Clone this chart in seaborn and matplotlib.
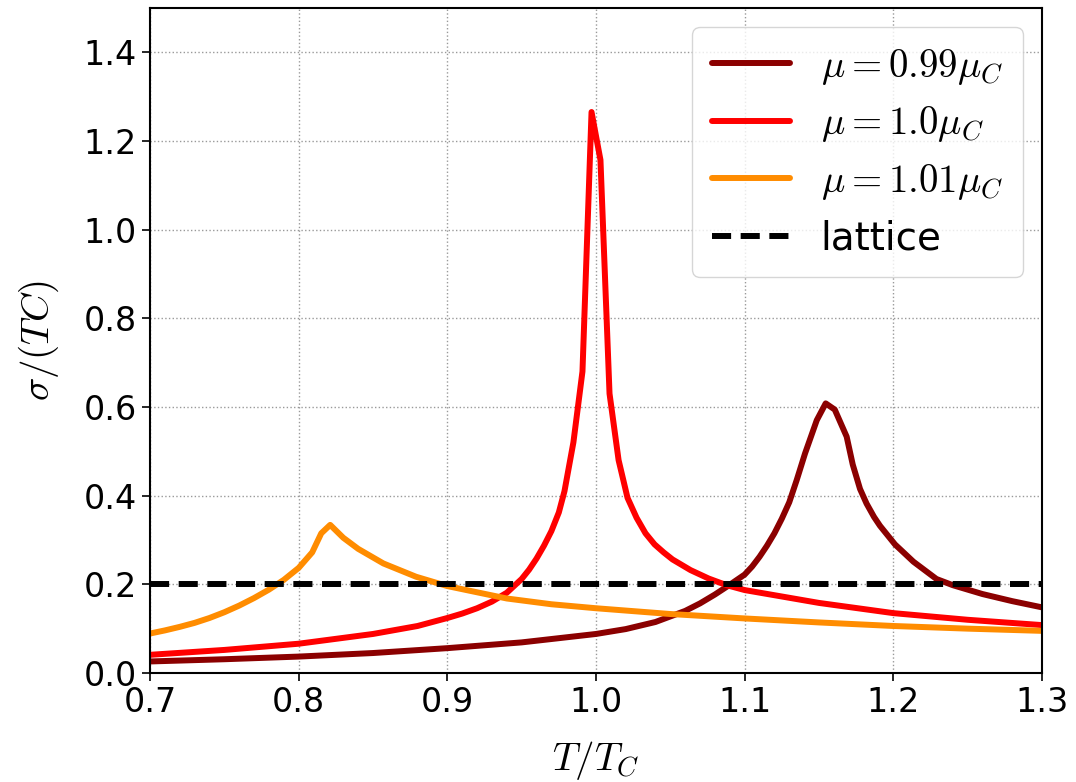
import matplotlib
matplotlib.use("Agg")
import matplotlib.pyplot as plt
import seaborn as sns
import numpy as np

sns.set_style("white")
plt.rcParams['font.family'] = ['DejaVu Sans']
plt.rcParams['mathtext.fontset'] = 'cm'
for k in ['text.color', 'axes.labelcolor', 'xtick.color', 'ytick.color', 'axes.edgecolor']:
    plt.rcParams[k] = 'black'

# mu = 0.99 mu_C
x_099 = [0.700, 0.750, 0.800, 0.850, 0.900, 0.950, 1.000, 1.020, 1.040, 1.060, 1.070,
         1.080, 1.090, 1.100, 1.105, 1.110, 1.115, 1.120, 1.125, 1.130, 1.135, 1.1406,
         1.1485, 1.1545, 1.1606, 1.1686, 1.1727, 1.1776, 1.1820, 1.1870, 1.191, 1.2011,
         1.2135, 1.229, 1.240, 1.260, 1.280, 1.300]
y_099 = [0.026, 0.031, 0.037, 0.045, 0.056, 0.069, 0.088, 0.099, 0.115, 0.140, 0.157,
         0.177, 0.199, 0.222, 0.240, 0.262, 0.287, 0.315, 0.348, 0.385, 0.435, 0.495,
         0.570, 0.608, 0.594, 0.533, 0.470, 0.415, 0.382, 0.352, 0.332, 0.290,
         0.251, 0.212, 0.198, 0.178, 0.162, 0.148]

# mu = 1.0 mu_C
x_100 = [0.700, 0.750, 0.800, 0.850, 0.880, 0.900, 0.910, 0.920, 0.930, 0.940, 0.950,
         0.955, 0.960, 0.965, 0.970, 0.975, 0.9788, 0.9848, 0.9909, 0.9970, 1.0030,
         1.0091, 1.0152, 1.0212, 1.0273, 1.0333, 1.0394, 1.0455, 1.0515, 1.0636,
         1.0758, 1.0879, 1.100, 1.150, 1.200, 1.250, 1.300]
y_100 = [0.041, 0.052, 0.066, 0.088, 0.106, 0.124, 0.134, 0.146, 0.161, 0.181, 0.212,
         0.233, 0.258, 0.287, 0.320, 0.362, 0.410, 0.520, 0.680, 1.265, 1.157,
         0.630, 0.480, 0.395, 0.350, 0.315, 0.290, 0.272, 0.256, 0.232,
         0.213, 0.198, 0.187, 0.158, 0.135, 0.120, 0.108]

# mu = 1.01 mu_C
x_101 = [0.700, 0.710, 0.720, 0.730, 0.740, 0.750, 0.760, 0.770, 0.780, 0.790, 0.800,
         0.8091, 0.8152, 0.8212, 0.830, 0.840, 0.857, 0.879, 0.900, 0.940, 0.970, 1.000,
         1.050, 1.100, 1.150, 1.200, 1.250, 1.300]
y_101 = [0.089, 0.096, 0.104, 0.113, 0.124, 0.137, 0.152, 0.169, 0.188, 0.210, 0.237,
         0.272, 0.315, 0.334, 0.305, 0.280, 0.247, 0.217, 0.196, 0.168, 0.155, 0.146,
         0.133, 0.123, 0.114, 0.106, 0.100, 0.095]

lattice_value = 0.2
labels = [r'$\mu=0.99\mu_C$', r'$\mu=1.0\mu_C$', r'$\mu=1.01\mu_C$', 'lattice']
colors = ['#8B0000', '#FF0000', '#FF8C00']
x_ticks = [0.7, 0.8, 0.9, 1.0, 1.1, 1.2, 1.3]
y_ticks = [0.0, 0.2, 0.4, 0.6, 0.8, 1.0, 1.2, 1.4]

fig = plt.figure(figsize=(10.76, 7.82), dpi=100)
ax = fig.add_axes([0.1394, 0.1394, 0.829, 0.8506])

for xs, ys, c, lab in zip([x_099, x_100, x_101], [y_099, y_100, y_101], colors, labels[:3]):
    sns.lineplot(x=xs, y=ys, ax=ax, color=c, lw=4.3, label=lab, sort=False)
ax.axhline(lattice_value, color='black', ls='--', lw=4.3, label=labels[3], dashes=(3.2, 1.6))

ax.set_xlim(0.7, 1.3)
ax.set_ylim(0.0, 1.5)
ax.set_xticks(x_ticks)
ax.set_yticks(y_ticks)
ax.tick_params(labelsize=24, direction='out', length=6, width=1.2, bottom=True, left=True,
               colors='black')
ax.grid(True, ls=':', color='gray', lw=1.0, alpha=0.8)
for s in ax.spines.values():
    s.set_color('black')
    s.set_linewidth(1.5)

ax.set_xlabel(r'$T/T_C$', fontsize=28, labelpad=14)
ax.set_ylabel(r'$\sigma/(TC)$', fontsize=28, labelpad=16)

leg = ax.legend(loc='upper right', fontsize=28, frameon=True,
                borderpad=0.5, labelspacing=0.45, handletextpad=0.8)
leg.get_frame().set_edgecolor('#cccccc')

fig.savefig('out.png', dpi=100)
